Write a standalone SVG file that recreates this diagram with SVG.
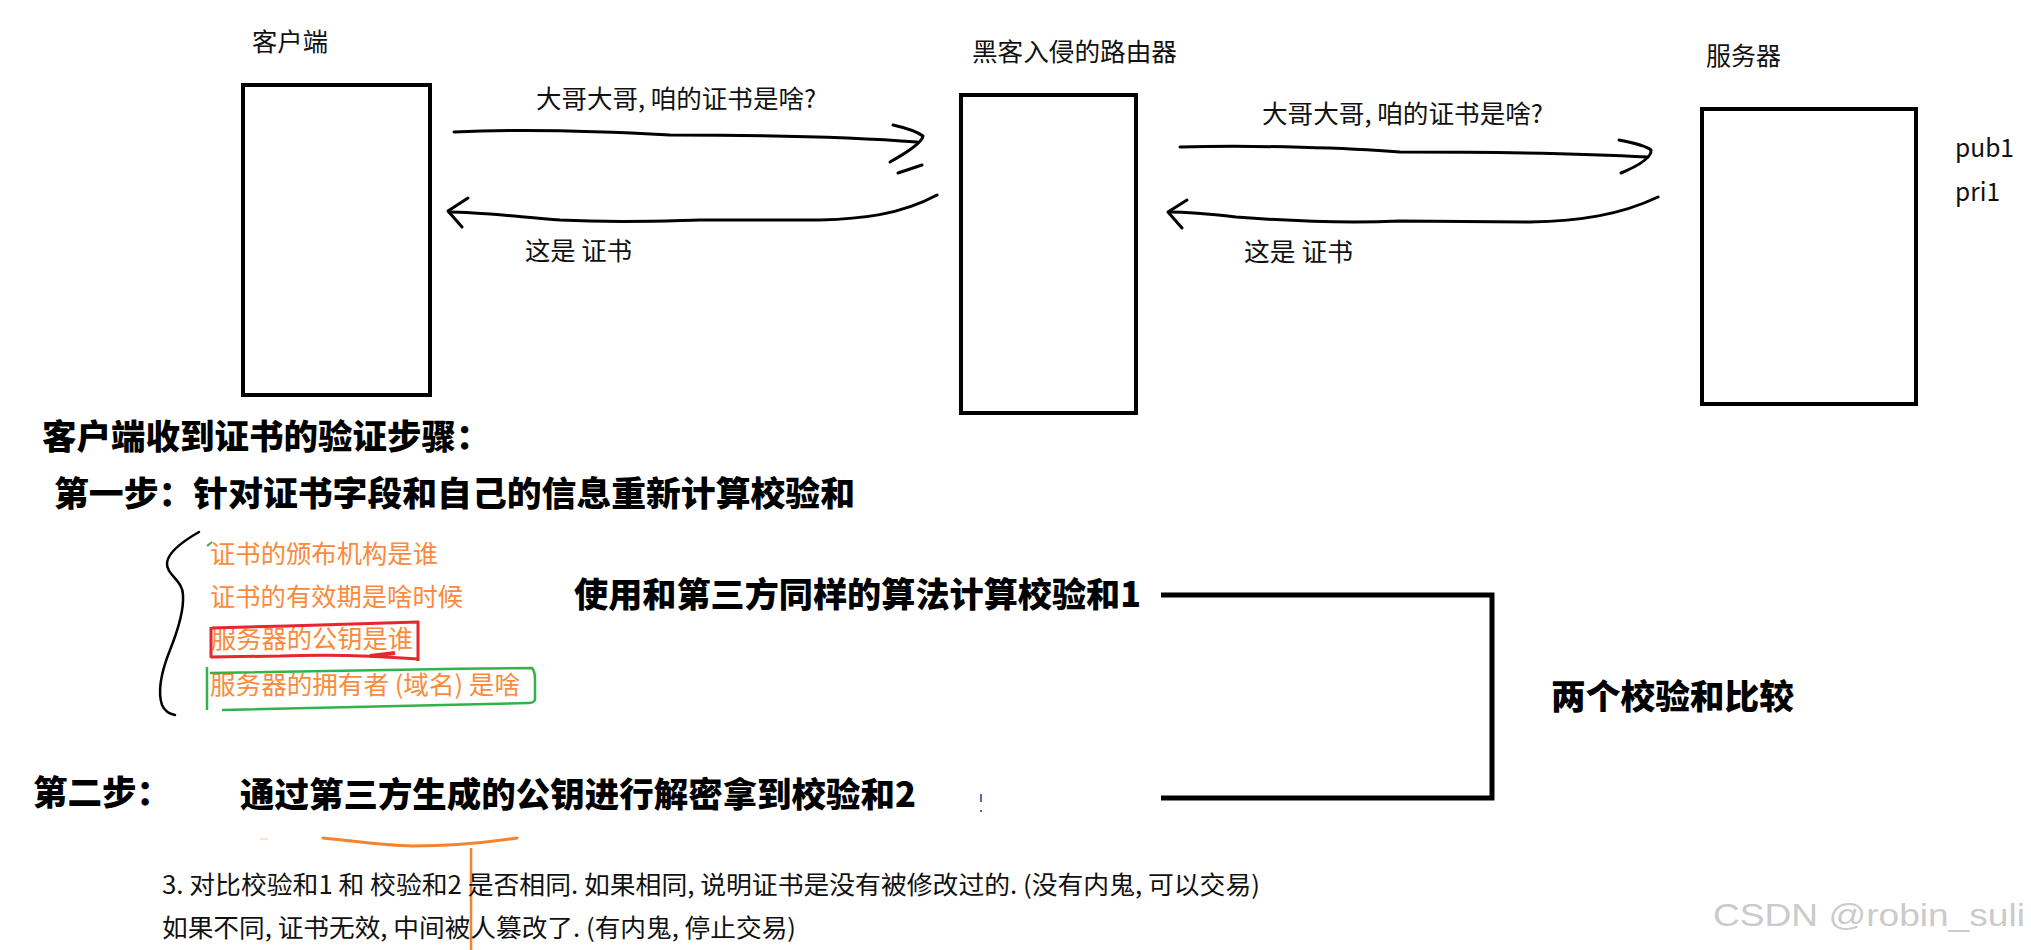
<svg xmlns="http://www.w3.org/2000/svg" width="2031" height="950" viewBox="0 0 2031 950">
<style>
text{font-family:"Noto Sans CJK SC","Noto Sans",sans-serif;}
.lbl{font-size:25px;fill:#111;}
.bold{font-size:34.5px;font-weight:900;fill:#000;}
.org{font-size:25.5px;fill:#fb8a3c;}
.note{font-size:25px;fill:#111;}
.box{fill:#fff;stroke:#000;stroke-width:4;}
.pen{fill:none;stroke:#000;stroke-width:3;stroke-linecap:round;stroke-linejoin:round;}
.wm{font-family:"Liberation Sans",Arial,sans-serif;font-size:31px;fill:#cbcbcb;}
</style>
<rect width="2031" height="950" fill="#fff"/>

<g id="client">
<rect class="box" x="243" y="85" width="187" height="310"/>
<text class="lbl" x="252" y="51" textLength="76" lengthAdjust="spacingAndGlyphs">客户端</text>
</g>
<g id="router">
<rect class="box" x="961" y="95" width="175" height="318"/>
<text class="lbl" x="972" y="61" textLength="205" lengthAdjust="spacingAndGlyphs">黑客入侵的路由器</text>
</g>
<g id="server">
<rect class="box" x="1702" y="109" width="214" height="295"/>
<text class="lbl" x="1706" y="65" textLength="75" lengthAdjust="spacingAndGlyphs">服务器</text>
<text class="lbl" x="1955" y="157" textLength="59" lengthAdjust="spacingAndGlyphs">pub1</text>
<text class="lbl" x="1955" y="201" textLength="45" lengthAdjust="spacingAndGlyphs">pri1</text>
</g>

<g id="connectors">
<path class="pen" d="M454,132 C520,129 600,131 670,135 C760,135 840,136 917,142"/>
<path class="pen" d="M893,125 Q915,130 923,136 Q922,144 890,162"/>
<path class="pen" d="M898,173 L922,165"/>
<path class="pen" d="M937,195 C900,215 860,219 820,220 L700,220 C660,221 620,223 560,220 C520,217 480,212 449,212"/>
<path class="pen" d="M468,198 L448,211 L462,227"/>
<path class="pen" d="M1180,147 C1260,145 1350,148 1400,152 C1470,152 1560,152 1648,157"/>
<path class="pen" d="M1619,140 Q1645,145 1651,150 Q1652,160 1621,173"/>
<path class="pen" d="M1658,197 C1620,215 1580,221 1530,222 L1400,221 C1350,223 1300,222 1236,217 C1210,214 1185,212 1169,212"/>
<path class="pen" d="M1187,200 L1168,212 L1182,228"/>
<path d="M1161,595 H1492 V798 H1161" fill="none" stroke="#000" stroke-width="5"/>
</g>

<g id="edge-labels">
<text class="lbl" x="536" y="108" textLength="280" lengthAdjust="spacingAndGlyphs">大哥大哥, 咱的证书是啥?</text>
<text class="lbl" x="525" y="260" textLength="107" lengthAdjust="spacingAndGlyphs">这是 证书</text>
<text class="lbl" x="1262" y="123" textLength="281" lengthAdjust="spacingAndGlyphs">大哥大哥, 咱的证书是啥?</text>
<text class="lbl" x="1244" y="261" textLength="109" lengthAdjust="spacingAndGlyphs">这是 证书</text>
</g>

<g id="steps">
<text class="bold" x="42" y="449">客户端收到证书的验证步骤：</text>
<text class="bold" x="54" y="506" textLength="801" lengthAdjust="spacingAndGlyphs">第一步：针对证书字段和自己的信息重新计算校验和</text>
<path d="M199,532 C185,540 168,552 167,563 C166,575 183,580 183,595 C184,610 178,630 170,650 C162,670 157,690 162,705 C165,712 170,714 175,715" fill="none" stroke="#000" stroke-width="2.5" stroke-linecap="round"/>
<path d="M207,546 L212,542" stroke="#2fb34a" stroke-width="2" fill="none"/>
<text class="org" x="210" y="563" textLength="228" lengthAdjust="spacingAndGlyphs">证书的颁布机构是谁</text>
<text class="org" x="210" y="606" textLength="253" lengthAdjust="spacingAndGlyphs">证书的有效期是啥时候</text>
<text class="org" x="211" y="648" textLength="202" lengthAdjust="spacingAndGlyphs">服务器的公钥是谁</text>
<text class="org" x="210" y="694" textLength="310" lengthAdjust="spacingAndGlyphs">服务器的拥有者 (域名) 是啥</text>
<path d="M212,628 C280,626 360,624 418,622 L418,661 M418,659 C380,656 330,654 280,656 L211,657 L211,627" fill="none" stroke="#e8262e" stroke-width="3" stroke-linejoin="round"/>
<path d="M370,656 L395,653" stroke="#e8262e" stroke-width="4" fill="none"/>
<path d="M207,667 L207,710 M210,673 C300,671 420,669 532,668 C535,671 535,676 535,680 L535,700 C534,702 531,703 528,703 C420,705 320,708 222,710" fill="none" stroke="#2fb34a" stroke-width="2.5" stroke-linejoin="round"/>
<text class="bold" x="574" y="607" textLength="567" lengthAdjust="spacingAndGlyphs">使用和第三方同样的算法计算校验和1</text>
<text class="bold" x="1551" y="709" textLength="243" lengthAdjust="spacingAndGlyphs">两个校验和比较</text>
<text class="bold" x="33" y="805">第二步：</text>
<text class="bold" x="240" y="807" textLength="676" lengthAdjust="spacingAndGlyphs">通过第三方生成的公钥进行解密拿到校验和2</text>
<path d="M981,794 L981,802 M981,810 L981,812" stroke="#1a3a8a" stroke-width="1.5" fill="none"/>
<path d="M260,839 L268,839" stroke="#fbe3d0" stroke-width="2" fill="none"/>
<path d="M323,838 C360,842 390,846 413,846 C450,846 490,842 517,838" fill="none" stroke="#f5832d" stroke-width="3" stroke-linecap="round"/>
<path d="M471,848 L471,950" stroke="#f5832d" stroke-width="2.5" fill="none"/>
<text class="note" x="162" y="894" textLength="1098" lengthAdjust="spacingAndGlyphs">3. 对比校验和1 和 校验和2 是否相同. 如果相同, 说明证书是没有被修改过的. (没有内鬼, 可以交易)</text>
<text class="note" x="162" y="937" textLength="634" lengthAdjust="spacingAndGlyphs">如果不同, 证书无效, 中间被人篡改了. (有内鬼, 停止交易)</text>
</g>

<text class="wm" x="1713" y="926" textLength="312" lengthAdjust="spacingAndGlyphs">CSDN @robin_suli</text>
</svg>
